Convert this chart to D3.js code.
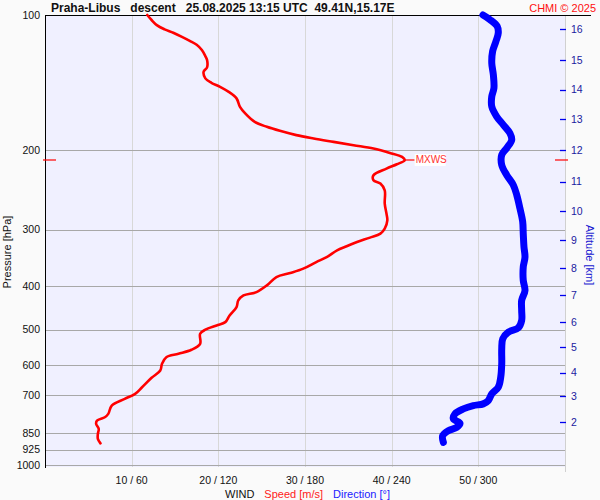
<!DOCTYPE html>
<html><head><meta charset="utf-8">
<script src="https://cdn.jsdelivr.net/npm/d3@7/dist/d3.min.js"></script>
<style>
body{margin:0;background:#fafafa;}
svg{display:block;font-family:"Liberation Sans",Arial,sans-serif;}
</style>
</head><body>
<svg id="c" width="600" height="500"></svg>
<script>
// ---------- data ----------
const pressureTicks = [100, 200, 300, 400, 500, 600, 700, 850, 925, 1000];
const speedTicks = [10, 20, 30, 40, 50];
const directionTicks = [60, 120, 180, 240, 300];
const altitudeKm = [16, 15, 14, 13, 12, 11, 10, 9, 8, 7, 6, 5, 4, 3, 2];
const altitudePressure = [107.6, 126.1, 146.6, 170.4, 200, 234.5, 273, 316.7, 365.6, 420, 481, 548, 623, 703, 802];

const speedPressure = [100, 102.6, 105.3, 107.6, 109.5, 111.8, 114.1, 116.4, 119.6, 123.4, 125.9, 130.7, 133.7, 138.3, 141.5, 144.4, 148.2, 153.2, 160, 165.5, 172.8, 177.2, 180.9, 184.9, 188.1, 191.4, 194.7, 198, 202.5, 206.7, 210.2, 214.6, 219.4, 227, 232.9, 236.9, 245.2, 262.4, 276.2, 285.9, 298.3, 306.1, 312.4, 319.5, 326.6, 333.4, 345.1, 354, 366.2, 374.5, 382.3, 398.9, 412.8, 419.9, 430.8, 445.9, 465.2, 481.4, 489.7, 500.5, 510.9, 537.8, 554.6, 566.1, 576, 595.8, 616.6, 640.1, 671.7, 694.8, 712.9, 737.7, 769.8, 783.4, 796.7, 810.3, 831.4, 853, 875.1, 895.1];
const speedValues = [11.8, 12.3, 12.9, 13.8, 14.8, 15.8, 16.7, 17.5, 18.1, 18.5, 18.7, 18.7, 18.3, 18.5, 19.2, 20.2, 21.2, 22.1, 22.5, 23.1, 24.2, 25.6, 27.1, 29.0, 31.0, 33.3, 35.6, 37.9, 39.8, 41.2, 41.5, 40.6, 39.4, 37.9, 37.9, 38.7, 39.2, 39.2, 39.4, 39.5, 39.2, 38.7, 37.5, 36.0, 34.8, 33.7, 32.5, 31.3, 29.8, 28.3, 26.7, 25.6, 24.4, 22.9, 22.3, 22.1, 21.3, 20.8, 19.8, 18.5, 17.9, 17.9, 16.9, 15.4, 14.0, 13.5, 13.3, 12.3, 11.2, 10.4, 9.2, 7.7, 7.3, 6.9, 6.0, 5.9, 6.2, 6.1, 6.1, 6.4];

const directionPressure = [100, 102.4, 106, 109.7, 114.4, 120.4, 127.9, 135.8, 145.4, 151.7, 159.7, 168.1, 175.4, 183.1, 189.5, 197.7, 204.6, 215.4, 226.7, 238.6, 251.1, 268.9, 287.8, 306.1, 327.8, 345.1, 363.2, 388.8, 409.3, 430.8, 453.5, 477.3, 495.5, 506.8, 524.2, 551.8, 595.8, 638.2, 671.7, 694.8, 719.1, 731.4, 737.8, 750.4, 769.8, 789.8, 808, 824.7, 838.8, 860.6, 890.6];
const directionValues = [303.2, 308.1, 313.1, 313.8, 312.2, 309.9, 309.3, 310.4, 310.8, 309.3, 309.3, 312.7, 317.3, 321.9, 323.1, 319.6, 316.2, 316.2, 319.6, 324.2, 326.6, 328.8, 330.7, 331.1, 331.6, 332.3, 331.1, 331.1, 332.3, 330.0, 330.0, 330.0, 327.7, 320.8, 316.9, 316.2, 316.2, 315.5, 313.8, 309.3, 306.9, 303.4, 296.5, 289.6, 283.8, 282.7, 287.3, 285.0, 279.2, 275.3, 275.8];

const maxWindPressure = 210;
const maxWindSpeed = 41.5;

const titleText = "Praha-Libus   descent   25.08.2025 13:15 UTC  49.41N,15.17E";
const creditText = "CHMI \u00A9 2025";

// ---------- scales ----------
const L = 45, R = 565, T = 15, B = 465;
const y = d3.scaleLog().domain([100, 1000]).range([T, B]);
const xs = d3.scaleLinear().domain([0, 60]).range([L, R]);
const xd = d3.scaleLinear().domain([0, 360]).range([L, R]);

const svg = d3.select("#c");
svg.append("rect").attr("width", 600).attr("height", 500).attr("fill", "#fafafa");

// plot background
svg.append("rect").attr("x", L).attr("y", T).attr("width", R - L).attr("height", B - T + 2).attr("fill", "#f0f0ff");

// vertical grid
svg.append("g").selectAll("line").data(speedTicks).join("line")
  .attr("x1", d => Math.round(xs(d)) + 0.5).attr("x2", d => Math.round(xs(d)) + 0.5)
  .attr("y1", T).attr("y2", B + 2).attr("stroke", "#d8d8d8").attr("stroke-width", 1);
svg.append("line").attr("x1", R + 0.5).attr("x2", R + 0.5).attr("y1", T).attr("y2", B + 7)
  .attr("stroke", "#d0d0d0").attr("stroke-width", 1);

// horizontal grid
svg.append("g").selectAll("line").data(pressureTicks.slice(1)).join("line")
  .attr("x1", L).attr("x2", R)
  .attr("y1", d => Math.round(y(d)) + 0.5).attr("y2", d => Math.round(y(d)) + 0.5)
  .attr("stroke", "#a8a8a8").attr("stroke-width", 1);

// axes lines
svg.append("line").attr("x1", L + 0.5).attr("x2", L + 0.5).attr("y1", T).attr("y2", B + 3)
  .attr("stroke", "#000").attr("stroke-width", 1);
svg.append("line").attr("x1", L).attr("x2", 591).attr("y1", T + 0.5).attr("y2", T + 0.5)
  .attr("stroke", "#000").attr("stroke-width", 1);

// pressure labels
svg.append("g").selectAll("text").data(pressureTicks).join("text")
  .attr("x", 40).attr("y", d => y(d)).attr("dy", "0.35em")
  .attr("text-anchor", "end").attr("font-size", 10.5).attr("fill", "#111")
  .text(d => d);

svg.append("text").attr("transform", `translate(11,252) rotate(-90)`)
  .attr("text-anchor", "middle").attr("font-size", 11).attr("fill", "#111")
  .text("Pressure [hPa]");

// altitude ticks
const ag = svg.append("g");
ag.selectAll("line").data(altitudePressure).join("line")
  .attr("x1", 560).attr("x2", 566)
  .attr("y1", d => Math.round(y(d)) + 0.5).attr("y2", d => Math.round(y(d)) + 0.5)
  .attr("stroke", "#0000ee").attr("stroke-width", 1.3);
ag.selectAll("text").data(altitudeKm).join("text")
  .attr("x", 571).attr("y", (d, i) => y(altitudePressure[i])).attr("dy", "0.35em")
  .attr("font-size", 10.5).attr("fill", "#1a1aa0")
  .text(d => d);
svg.append("text").attr("transform", `translate(586,255) rotate(90)`)
  .attr("text-anchor", "middle").attr("font-size", 11).attr("fill", "#1515d0")
  .text("Altitude [km]");

// bottom labels
svg.append("g").selectAll("text").data(speedTicks).join("text")
  .attr("x", d => xs(d)).attr("y", 484).attr("text-anchor", "middle")
  .attr("font-size", 10.5).attr("fill", "#111")
  .text((d, i) => d + " / " + directionTicks[i]);

const lg = svg.append("text").attr("x", 225).attr("y", 498).attr("font-size", 11);
lg.append("tspan").attr("fill", "#111").text("WIND");
lg.append("tspan").attr("fill", "#ff2020").attr("dx", 10).text("Speed [m/s]");
lg.append("tspan").attr("fill", "#2020ff").attr("dx", 10).text("Direction [\u00B0]");

// title
svg.append("text").attr("x", 51).attr("y", 12).attr("font-size", 12).attr("font-weight", "bold")
  .attr("fill", "#111").style("white-space", "pre").attr("xml:space", "preserve").text(titleText);
svg.append("text").attr("x", 596).attr("y", 12).attr("text-anchor", "end").attr("font-size", 11)
  .attr("fill", "#ff1010").text(creditText);

// direction line
const dirLine = d3.line().x(d => xd(d[1])).y(d => y(d[0])).curve(d3.curveCatmullRom.alpha(0.5));
svg.append("path").datum(directionPressure.map((p, i) => [p, directionValues[i]]))
  .attr("d", dirLine).attr("fill", "none").attr("stroke", "#0000ff")
  .attr("stroke-width", 7).attr("stroke-linejoin", "round").attr("stroke-linecap", "round");

// speed line
const spdLine = d3.line().x(d => xs(d[1])).y(d => y(d[0])).curve(d3.curveCatmullRom.alpha(0.5));
svg.append("path").datum(speedPressure.map((p, i) => [p, speedValues[i]]))
  .attr("d", spdLine).attr("fill", "none").attr("stroke", "#ff0000")
  .attr("stroke-width", 2.6).attr("stroke-linejoin", "round").attr("stroke-linecap", "round");

// MXWS marker
const ym = y(maxWindPressure);
svg.append("line").attr("x1", 43).attr("x2", 56).attr("y1", ym).attr("y2", ym).attr("stroke", "#ff0000").attr("stroke-width", 1.2);
svg.append("line").attr("x1", 555).attr("x2", 568).attr("y1", ym).attr("y2", ym).attr("stroke", "#ff0000").attr("stroke-width", 1.2);
svg.append("line").attr("x1", xs(maxWindSpeed)).attr("x2", xs(maxWindSpeed) + 10).attr("y1", ym).attr("y2", ym).attr("stroke", "#ff0000").attr("stroke-width", 1.2);
svg.append("rect").attr("x", xs(maxWindSpeed) + 10).attr("y", ym - 6).attr("width", 31).attr("height", 12).attr("fill", "#fff");
svg.append("text").attr("x", xs(maxWindSpeed) + 11).attr("y", ym).attr("dy", "0.35em")
  .attr("font-size", 10).attr("fill", "#ff3030").text("MXWS");
</script>
</body></html>
